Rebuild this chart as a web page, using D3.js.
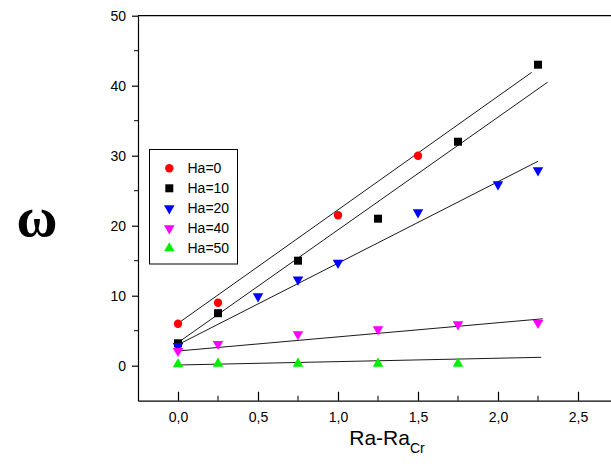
<!DOCTYPE html>
<html>
<head>
<meta charset="utf-8">
<script src="https://cdn.jsdelivr.net/npm/d3@7"></script>
<style>
  body { margin: 0; background: #fff; }
  text { font-family: "Liberation Sans", Arial, sans-serif; }
</style>
</head>
<body>
<script>
// data
var series = ["Ha=0", "Ha=10", "Ha=20", "Ha=40", "Ha=50"];
var colors = ["#ff0000", "#000000", "#0000ff", "#ff00ff", "#00ee00"];
var shapes = ["circle", "square", "down", "down", "up"];

var xHa0 = [0, 0.25, 1.0, 1.5];
var yHa0 = [6, 9, 21.5, 30];
var xHa10 = [0, 0.25, 0.75, 1.25, 1.75, 2.25];
var yHa10 = [3.2, 7.5, 15, 21, 32, 43];
var xHa20 = [0, 0.5, 0.75, 1.0, 1.5, 2.0, 2.25];
var yHa20 = [2.8, 9.9, 12.3, 14.7, 21.9, 25.9, 27.9];
var xHa40 = [0, 0.25, 0.75, 1.25, 1.75, 2.25];
var yHa40 = [2.1, 3.1, 4.5, 5.2, 5.9, 6.1];
var xHa50 = [0, 0.25, 0.75, 1.25, 1.75];
var yHa50 = [0.2, 0.3, 0.3, 0.3, 0.3];

// fitted straight lines: [x0, y0, x1, y1]
var fitHa0 = [0, 6.05, 2.21, 41.9];
var fitHa10 = [0, 3.3, 2.31, 40.5];
var fitHa20 = [0, 3.0, 2.25, 29.2];
var fitHa40 = [0, 2.1, 2.28, 6.7];
var fitHa50 = [0, 0.1, 2.27, 1.2];

var xTicks = [0, 0.5, 1.0, 1.5, 2.0, 2.5];
var xMinor = [0.25, 0.75, 1.25, 1.75, 2.25];
var yTicks = [0, 10, 20, 30, 40, 50];
var yMinor = [5, 15, 25, 35, 45];

var xs = [xHa0, xHa10, xHa20, xHa40, xHa50];
var ys = [yHa0, yHa10, yHa20, yHa40, yHa50];
var fits = [fitHa0, fitHa10, fitHa20, fitHa40, fitHa50];

var width = 611, height = 464;

var svg = d3.select("body")
    .append("svg")
    .attr("width", width)
    .attr("height", height);

var x = d3.scaleLinear().domain([-0.25, 2.75]).range([138, 618]);
var y = d3.scaleLinear().domain([-5, 50]).range([400.7, 15.7]);

var fmt = function(d) { return d3.format(".1f")(d).replace(".", ","); };

// bottom axis, ticks pointing inwards
var gx = svg.append("g")
    .attr("transform", "translate(0," + y(-5) + ")")
    .call(d3.axisBottom(x).tickValues(xTicks).tickFormat(fmt)
        .tickSizeInner(-9).tickSizeOuter(0).tickPadding(11));
gx.append("g").selectAll("line")
    .data(xMinor)
    .enter().append("line")
    .attr("x1", function(d) { return x(d); })
    .attr("x2", function(d) { return x(d); })
    .attr("y1", 0).attr("y2", -5)
    .attr("stroke", "#000");

// left axis
var gy = svg.append("g")
    .attr("transform", "translate(" + x(-0.25) + ",0)")
    .call(d3.axisLeft(y).tickValues(yTicks)
        .tickSizeInner(6).tickSizeOuter(0).tickPadding(6));
gy.append("g").selectAll("line")
    .data(yMinor)
    .enter().append("line")
    .attr("y1", function(d) { return y(d); })
    .attr("y2", function(d) { return y(d); })
    .attr("x1", 0).attr("x2", -4)
    .attr("stroke", "#000");

svg.selectAll(".tick text")
    .style("font-size", "14px")
    .style("font-family", "Liberation Sans, Arial, sans-serif")
    .attr("fill", "#000");
svg.selectAll(".domain, .tick line").attr("stroke", "#000").attr("stroke-width", 1.2);

// top frame
svg.append("line")
    .attr("x1", x(-0.25)).attr("x2", x(2.75))
    .attr("y1", y(50)).attr("y2", y(50))
    .attr("stroke", "#000").attr("stroke-width", 1.2);

// fit lines
svg.selectAll(".fit")
    .data(fits)
    .enter().append("line")
    .attr("class", "fit")
    .attr("x1", function(d) { return x(d[0]); })
    .attr("y1", function(d) { return y(d[1]); })
    .attr("x2", function(d) { return x(d[2]); })
    .attr("y2", function(d) { return y(d[3]); })
    .attr("stroke", "#1a1a1a")
    .attr("stroke-width", 1);

function symbolPath(shape) {
    if (shape == "circle") return d3.symbol().type(d3.symbolCircle).size(55)();
    if (shape == "square") return d3.symbol().type(d3.symbolSquare).size(64)();
    return d3.symbol().type(d3.symbolTriangle).size(48)();
}
function symbolRot(shape) {
    return shape == "down" ? " rotate(180)" : "";
}

// markers
series.forEach(function(name, i) {
    var pts = xs[i].map(function(v, j) { return [v, ys[i][j]]; });
    svg.append("g").selectAll("path")
        .data(pts)
        .enter().append("path")
        .attr("d", symbolPath(shapes[i]))
        .attr("transform", function(d) {
            return "translate(" + x(d[0]) + "," + y(d[1]) + ")" + symbolRot(shapes[i]);
        })
        .attr("fill", colors[i]);
});

// legend
var legend = svg.append("g");
legend.append("rect")
    .attr("x", 149.5).attr("y", 149.5)
    .attr("width", 88).attr("height", 114.5)
    .attr("fill", "#fff")
    .attr("stroke", "#000");
series.forEach(function(name, i) {
    var ly = 168.3 + i * 20;
    legend.append("path")
        .attr("d", symbolPath(shapes[i]))
        .attr("transform", "translate(169.3," + ly + ")" + symbolRot(shapes[i]))
        .attr("fill", colors[i]);
    legend.append("text")
        .attr("x", 187.5)
        .attr("y", ly)
        .attr("dy", "0.36em")
        .style("font-size", "14px")
        .text(name);
});

// axis titles
var xt = svg.append("text")
    .attr("x", 387)
    .attr("y", 445)
    .attr("text-anchor", "middle")
    .style("font-size", "21px");
xt.append("tspan").text("Ra-Ra");
xt.append("tspan").attr("dy", 8).style("font-size", "14px").text("Cr");

svg.append("text")
    .attr("x", 37)
    .attr("y", 236)
    .attr("text-anchor", "middle")
    .style("font-family", "Liberation Serif, Times New Roman, serif")
    .style("font-weight", "bold")
    .style("font-size", "56px")
    .text("ω");
</script>
</body>
</html>
